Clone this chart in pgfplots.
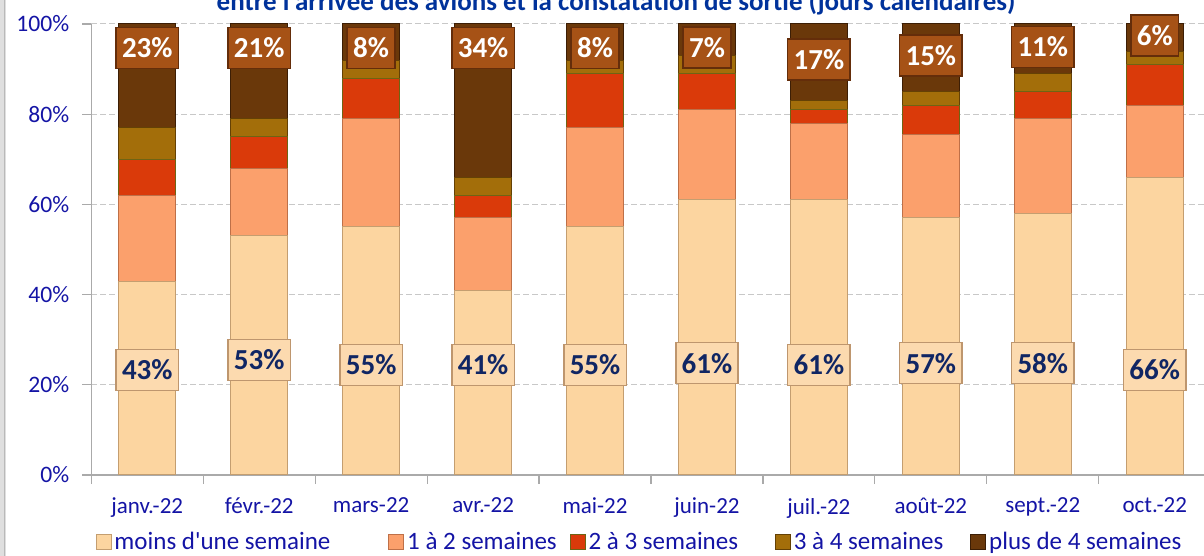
\documentclass[border=0pt]{standalone}
\usepackage{pgfplots}
\pgfplotsset{compat=1.18}
\usepackage{pgfplotstable}
\usepackage{fontspec}
\setmainfont{Carlito}[Ligatures=TeXOff]
\definecolor{cMoins}{RGB}{252,213,160}
\definecolor{cMoinsD}{RGB}{196,158,112}
\definecolor{cUn}{RGB}{251,160,108}
\definecolor{cUnD}{RGB}{190,112,72}
\definecolor{cDeux}{RGB}{218,58,10}
\definecolor{cDeuxD}{RGB}{110,100,20}
\definecolor{cTrois}{RGB}{163,110,10}
\definecolor{cTroisD}{RGB}{100,65,5}
\definecolor{cPlus}{RGB}{106,56,10}
\definecolor{cPlusD}{RGB}{60,30,5}
\definecolor{cLab}{RGB}{166,82,22}
\definecolor{cLabD}{RGB}{100,45,10}
\definecolor{cLabM}{RGB}{252,218,175}
\definecolor{cLabMD}{RGB}{190,150,110}
\definecolor{cTxt}{RGB}{20,20,165}
\definecolor{cTitle}{RGB}{0,50,155}
\definecolor{cNavy}{RGB}{16,38,100}
\definecolor{cGrid}{RGB}{200,200,200}
\definecolor{cAxis}{RGB}{170,170,170}

\pgfplotstableread{
x moins un deux trois plus
0 43 19 8 7 23
1 53 15 7 4 21
2 55 24 9 4 8
3 41 16 5 4 34
4 55 22 12 3 8
5 61 20 8 4 7
6 61 17 3 2 17
7 57 18.5 6.5 3 15
8 58 21 6 4 11
9 66 16 9 3 6
}\data

\pgfplotstableread{
x ym vm yp vp
0 23.3 43 94.7 23
1 25.5 53 94.7 21
2 24.4 55 94.7 8
3 24.4 41 94.7 34
4 24.4 55 94.7 8
5 24.8 61 94.8 7
6 24.4 61 92.1 17
7 24.8 57 93.0 15
8 24.8 58 94.9 11
9 23.3 66 97.5 6
}\labels

\begin{document}
\begin{tikzpicture}
\fill[gray!25] (-45.65pt,-40.5pt) rectangle (-42.5pt,237.5pt);
\draw[gray!55, line width=0.6pt] (-43.5pt,-40.5pt) -- (-43.5pt,237.5pt);
\begin{axis}[
  at={(0,0)}, anchor=south west,
  scale only axis, width=559.7pt, height=225.5pt,
  xmin=-0.5, xmax=9.5, ymin=0, ymax=100,
  ybar stacked, bar width=28.35pt,
  axis x line*=bottom, axis y line*=left,
  axis line style={draw=cAxis, line width=0.6pt},
  tick align=outside,
  major tick length=4.5pt,
  tick style={draw=cAxis, line width=0.6pt},
  xtick={-0.5,0.5,...,9.5},
  xticklabels={},
  extra x ticks={0,...,9},
  extra x tick labels={janv.-22, févr.-22, mars-22, avr.-22, mai-22, juin-22, juil.-22, août-22, sept.-22, oct.-22},
  extra x tick style={major tick length=0pt, grid=none},
  xticklabel style={font=\fontsize{11.5}{13}\selectfont, text=cTxt, yshift=-8pt},
  ytick={0,20,...,100},
  yticklabels={0\%,20\%,40\%,60\%,80\%,100\%},
  yticklabel style={font=\fontsize{11.8}{13}\selectfont, text=cTxt, xshift=-3pt},
  ymajorgrids,
  grid style={draw=cGrid, line width=0.5pt, dash pattern=on 3pt off 1.5pt},
  legend columns=5,
  legend cell align=left,
  legend image code/.code={\draw[#1, line width=0.4pt] (0pt,-3.75pt) rectangle (7.5pt,3.75pt);},
  legend style={at={(0,0)}, anchor=west, xshift=2pt, yshift=-33.5pt, draw=none, fill=none, inner sep=0pt,
    font=\fontsize{12.5}{14}\selectfont, text=cTxt,
    nodes={inner xsep=1.5pt, inner ysep=1pt},
    /tikz/column 2/.style={column sep=27.5pt},
    /tikz/column 4/.style={column sep=5pt},
    /tikz/column 6/.style={column sep=17pt},
    /tikz/column 8/.style={column sep=12pt}},
]
\addplot[fill=cMoins, draw=cMoinsD, line width=0.5pt] table[x=x, y=moins]{\data};
\addlegendentry{moins d'une semaine}
\addplot[fill=cUn, draw=cUnD, line width=0.5pt] table[x=x, y=un]{\data};
\addlegendentry{1 à 2 semaines}
\addplot[fill=cDeux, draw=cDeuxD, line width=0.5pt] table[x=x, y=deux]{\data};
\addlegendentry{2 à 3 semaines}
\addplot[fill=cTrois, draw=cTroisD, line width=0.5pt] table[x=x, y=trois]{\data};
\addlegendentry{3 à 4 semaines}
\addplot[fill=cPlus, draw=cPlusD, line width=0.5pt] table[x=x, y=plus]{\data};
\addlegendentry{plus de 4 semaines}
\end{axis}
\begin{axis}[
  at={(0,0)}, anchor=south west,
  scale only axis, width=559.7pt, height=225.5pt,
  xmin=-0.5, xmax=9.5, ymin=0, ymax=100,
  hide axis, clip=false,
]
\addplot[draw=none, mark=none, point meta=explicit symbolic,
  nodes near coords={\pgfplotspointmeta\%},
  every node near coord/.append style={anchor=center, font=\bfseries\fontsize{14.5}{16}\selectfont,
    text=cNavy, fill=cLabM, draw=cLabMD, line width=0.8pt, minimum height=20.5pt,
    inner xsep=3pt, inner ysep=0pt}]
  table[x=x, y=ym, meta=vm]{\labels};
\addplot[draw=none, mark=none, point meta=explicit symbolic,
  nodes near coords={\pgfplotspointmeta\%},
  every node near coord/.append style={anchor=center, font=\bfseries\fontsize{14.5}{16}\selectfont,
    text=white, fill=cLab, draw=cLabD, line width=0.8pt, minimum height=20.5pt,
    inner xsep=3pt, inner ysep=0pt}]
  table[x=x, y=yp, meta=vp]{\labels};
\end{axis}
\node[anchor=base, font=\bfseries\fontsize{13.5}{16}\selectfont, text=cTitle] at (262.4pt,232pt)
  {entre l'arrivée des avions et la constatation de sortie (jours calendaires)};
\pgfresetboundingbox
\path[use as bounding box] (-45.65pt,-40.5pt) rectangle (556.35pt,237.5pt);
\end{tikzpicture}
\end{document}
